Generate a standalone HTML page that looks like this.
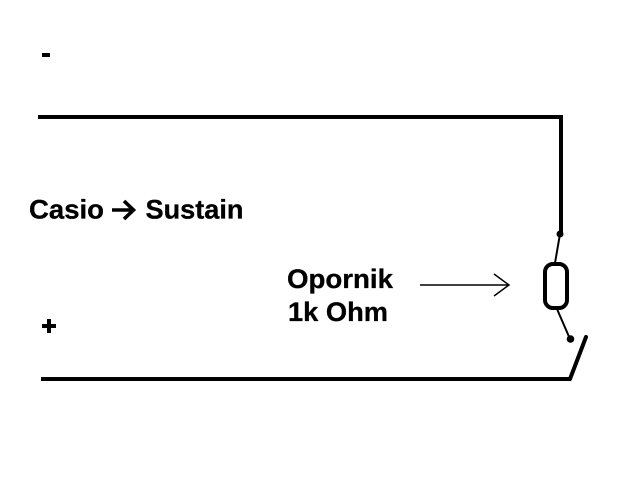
<!DOCTYPE html>
<html>
<head>
<meta charset="utf-8">
<style>
html,body{margin:0;padding:0;background:#fff;width:640px;height:480px;overflow:hidden}
svg{display:block}
text{font-family:"Liberation Sans",Arial,sans-serif;font-weight:bold;font-size:26.5px;fill:#000;stroke:#000;stroke-width:.3px}
</style>
</head>
<body>
<svg width="640" height="480" viewBox="0 0 640 480" xmlns="http://www.w3.org/2000/svg">
<rect width="640" height="480" fill="#fff"/>
<!-- minus / plus -->
<rect x="42" y="53" width="8" height="4" fill="#000"/>
<rect x="42" y="324" width="14" height="4" fill="#000"/>
<rect x="47" y="319" width="4" height="14" fill="#000"/>
<!-- wires -->
<path d="M38 117H561V234" fill="none" stroke="#000" stroke-width="4"/>
<path d="M41 379H570" fill="none" stroke="#000" stroke-width="4"/>
<path d="M570 379L586 337" fill="none" stroke="#000" stroke-width="4" stroke-linecap="round"/>
<circle cx="560" cy="234" r="3.5" fill="#000"/>
<circle cx="570.500" cy="339" r="3.800" fill="#000"/>
<path d="M560 234L555 263M557 309L570 339" fill="none" stroke="#000" stroke-width="2"/>
<!-- resistor -->
<rect x="545" y="264" width="22" height="44" rx="8" ry="8" fill="#fff" stroke="#000" stroke-width="4"/>
<!-- arrow -->
<path d="M420 285H509M494 274L509 285L494 296" fill="none" stroke="#000" stroke-width="1.500"/>
<!-- labels -->
<text x="29" y="218.500" textLength="75" lengthAdjust="spacingAndGlyphs">Casio</text>
<path d="M112 210H133M124 201L133.500 210L124 219" fill="none" stroke="#000" stroke-width="3.600"/>
<text x="145.500" y="218.500" textLength="98" lengthAdjust="spacingAndGlyphs">Sustain</text>
<text x="287" y="288" textLength="106" lengthAdjust="spacingAndGlyphs">Opornik</text>
<text x="288" y="321" textLength="100" lengthAdjust="spacingAndGlyphs">1k Ohm</text>
</svg>
</body>
</html>
